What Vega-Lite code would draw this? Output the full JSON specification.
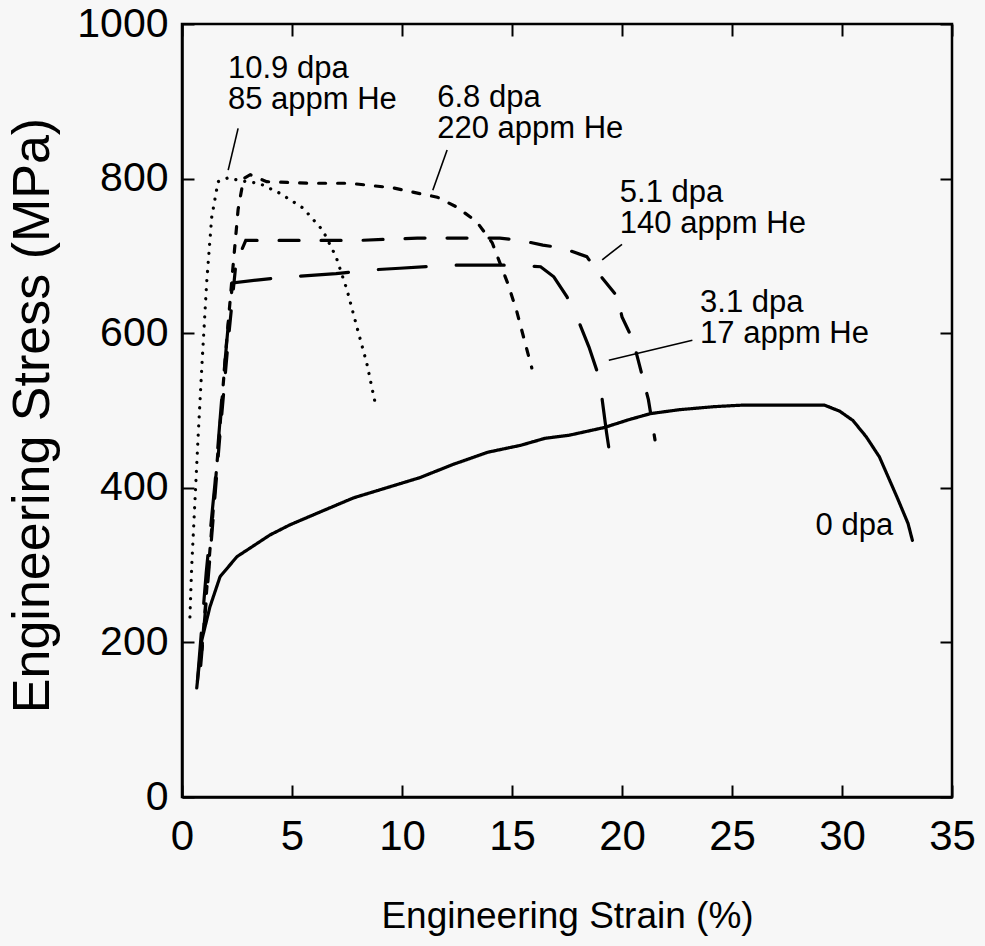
{
  "$schema": "https://vega.github.io/schema/vega-lite/v6.json",
  "width": 770,
  "height": 773,
  "autosize": "none",
  "padding": {"left": 182, "top": 24, "right": 33, "bottom": 149},
  "background": "#f7f7f7",
  "config": {
    "view": {"stroke": "black", "strokeWidth": 2.5},
    "axis": {"grid": false, "domainColor": "black", "domainWidth": 2.5, "tickColor": "black", "tickWidth": 2, "labelColor": "black", "titleColor": "black", "titleFontWeight": "normal"}
  },
  "datasets": {
    "curves": [
      {"series": "0 dpa", "strain": 0.67, "stress": 141},
      {"series": "0 dpa", "strain": 0.9, "stress": 203},
      {"series": "0 dpa", "strain": 1.27, "stress": 246},
      {"series": "0 dpa", "strain": 1.73, "stress": 285},
      {"series": "0 dpa", "strain": 2.5, "stress": 311},
      {"series": "0 dpa", "strain": 3.2, "stress": 324},
      {"series": "0 dpa", "strain": 4.0, "stress": 339},
      {"series": "0 dpa", "strain": 4.9, "stress": 352},
      {"series": "0 dpa", "strain": 6.3, "stress": 369},
      {"series": "0 dpa", "strain": 7.8, "stress": 387},
      {"series": "0 dpa", "strain": 9.3, "stress": 400},
      {"series": "0 dpa", "strain": 10.8, "stress": 413},
      {"series": "0 dpa", "strain": 12.3, "stress": 430},
      {"series": "0 dpa", "strain": 13.9, "stress": 446},
      {"series": "0 dpa", "strain": 15.4, "stress": 455},
      {"series": "0 dpa", "strain": 16.5, "stress": 464},
      {"series": "0 dpa", "strain": 17.6, "stress": 468},
      {"series": "0 dpa", "strain": 19.2, "stress": 478},
      {"series": "0 dpa", "strain": 20.3, "stress": 488},
      {"series": "0 dpa", "strain": 21.3, "stress": 496},
      {"series": "0 dpa", "strain": 22.6, "stress": 501},
      {"series": "0 dpa", "strain": 24.2, "stress": 505},
      {"series": "0 dpa", "strain": 25.5, "stress": 507},
      {"series": "0 dpa", "strain": 27.5, "stress": 507},
      {"series": "0 dpa", "strain": 29.2, "stress": 507},
      {"series": "0 dpa", "strain": 29.9, "stress": 499},
      {"series": "0 dpa", "strain": 30.5, "stress": 487},
      {"series": "0 dpa", "strain": 31.1, "stress": 466},
      {"series": "0 dpa", "strain": 31.7, "stress": 440},
      {"series": "0 dpa", "strain": 32.1, "stress": 414},
      {"series": "0 dpa", "strain": 32.5, "stress": 388},
      {"series": "0 dpa", "strain": 33.0, "stress": 354},
      {"series": "0 dpa", "strain": 33.2, "stress": 332},
      {"series": "10.9 dpa", "strain": 0.36, "stress": 233},
      {"series": "10.9 dpa", "strain": 0.44, "stress": 298},
      {"series": "10.9 dpa", "strain": 0.59, "stress": 384},
      {"series": "10.9 dpa", "strain": 0.73, "stress": 465},
      {"series": "10.9 dpa", "strain": 0.9, "stress": 556},
      {"series": "10.9 dpa", "strain": 1.12, "stress": 665},
      {"series": "10.9 dpa", "strain": 1.35, "stress": 750},
      {"series": "10.9 dpa", "strain": 1.64, "stress": 796},
      {"series": "10.9 dpa", "strain": 2.1, "stress": 801},
      {"series": "10.9 dpa", "strain": 2.7, "stress": 797},
      {"series": "10.9 dpa", "strain": 3.5, "stress": 794},
      {"series": "10.9 dpa", "strain": 4.45, "stress": 781},
      {"series": "10.9 dpa", "strain": 5.5, "stress": 762},
      {"series": "10.9 dpa", "strain": 6.4, "stress": 733},
      {"series": "10.9 dpa", "strain": 7.0, "stress": 699},
      {"series": "10.9 dpa", "strain": 7.5, "stress": 656},
      {"series": "10.9 dpa", "strain": 7.95, "stress": 608},
      {"series": "10.9 dpa", "strain": 8.4, "stress": 561},
      {"series": "10.9 dpa", "strain": 8.8, "stress": 507},
      {"series": "6.8 dpa", "strain": 0.9, "stress": 190},
      {"series": "6.8 dpa", "strain": 1.3, "stress": 330},
      {"series": "6.8 dpa", "strain": 1.7, "stress": 470},
      {"series": "6.8 dpa", "strain": 2.0, "stress": 580},
      {"series": "6.8 dpa", "strain": 2.3, "stress": 680},
      {"series": "6.8 dpa", "strain": 2.55, "stress": 760},
      {"series": "6.8 dpa", "strain": 2.8, "stress": 800},
      {"series": "6.8 dpa", "strain": 3.1, "stress": 805},
      {"series": "6.8 dpa", "strain": 3.85, "stress": 796},
      {"series": "6.8 dpa", "strain": 5.8, "stress": 794},
      {"series": "6.8 dpa", "strain": 7.6, "stress": 794},
      {"series": "6.8 dpa", "strain": 9.6, "stress": 788},
      {"series": "6.8 dpa", "strain": 10.4, "stress": 783},
      {"series": "6.8 dpa", "strain": 11.6, "stress": 776},
      {"series": "6.8 dpa", "strain": 12.5, "stress": 763},
      {"series": "6.8 dpa", "strain": 13.4, "stress": 744},
      {"series": "6.8 dpa", "strain": 14.1, "stress": 717},
      {"series": "6.8 dpa", "strain": 14.8, "stress": 665},
      {"series": "6.8 dpa", "strain": 15.2, "stress": 630},
      {"series": "6.8 dpa", "strain": 15.6, "stress": 587},
      {"series": "6.8 dpa", "strain": 15.9, "stress": 555},
      {"series": "5.1 dpa", "strain": 0.85, "stress": 170},
      {"series": "5.1 dpa", "strain": 1.3, "stress": 320},
      {"series": "5.1 dpa", "strain": 1.7, "stress": 460},
      {"series": "5.1 dpa", "strain": 2.1, "stress": 590},
      {"series": "5.1 dpa", "strain": 2.45, "stress": 690},
      {"series": "5.1 dpa", "strain": 2.9, "stress": 720},
      {"series": "5.1 dpa", "strain": 5.0, "stress": 720},
      {"series": "5.1 dpa", "strain": 8.0, "stress": 720},
      {"series": "5.1 dpa", "strain": 10.7, "stress": 723},
      {"series": "5.1 dpa", "strain": 12.95, "stress": 723},
      {"series": "5.1 dpa", "strain": 14.45, "stress": 723},
      {"series": "5.1 dpa", "strain": 15.4, "stress": 720},
      {"series": "5.1 dpa", "strain": 16.4, "stress": 714},
      {"series": "5.1 dpa", "strain": 17.3, "stress": 710},
      {"series": "5.1 dpa", "strain": 18.4, "stress": 699},
      {"series": "5.1 dpa", "strain": 19.0, "stress": 675},
      {"series": "5.1 dpa", "strain": 19.8, "stress": 647},
      {"series": "5.1 dpa", "strain": 20.0, "stress": 621},
      {"series": "5.1 dpa", "strain": 20.5, "stress": 591},
      {"series": "5.1 dpa", "strain": 20.7, "stress": 569},
      {"series": "5.1 dpa", "strain": 21.0, "stress": 536},
      {"series": "5.1 dpa", "strain": 21.2, "stress": 514},
      {"series": "5.1 dpa", "strain": 21.5, "stress": 462},
      {"series": "3.1 dpa", "strain": 0.7, "stress": 150},
      {"series": "3.1 dpa", "strain": 1.1, "stress": 290},
      {"series": "3.1 dpa", "strain": 1.5, "stress": 406},
      {"series": "3.1 dpa", "strain": 1.8, "stress": 513},
      {"series": "3.1 dpa", "strain": 2.1, "stress": 610},
      {"series": "3.1 dpa", "strain": 2.3, "stress": 665},
      {"series": "3.1 dpa", "strain": 3.5, "stress": 669},
      {"series": "3.1 dpa", "strain": 4.9, "stress": 673},
      {"series": "3.1 dpa", "strain": 7.0, "stress": 677},
      {"series": "3.1 dpa", "strain": 8.7, "stress": 682},
      {"series": "3.1 dpa", "strain": 9.9, "stress": 684},
      {"series": "3.1 dpa", "strain": 11.1, "stress": 686},
      {"series": "3.1 dpa", "strain": 12.5, "stress": 688},
      {"series": "3.1 dpa", "strain": 14.9, "stress": 688},
      {"series": "3.1 dpa", "strain": 16.3, "stress": 686},
      {"series": "3.1 dpa", "strain": 16.9, "stress": 673},
      {"series": "3.1 dpa", "strain": 17.5, "stress": 647},
      {"series": "3.1 dpa", "strain": 17.95, "stress": 621},
      {"series": "3.1 dpa", "strain": 18.5, "stress": 582},
      {"series": "3.1 dpa", "strain": 18.9, "stress": 548},
      {"series": "3.1 dpa", "strain": 19.1, "stress": 514},
      {"series": "3.1 dpa", "strain": 19.3, "stress": 471},
      {"series": "3.1 dpa", "strain": 19.5, "stress": 433}
    ],
    "labels": [
      {"text": "10.9 dpa\n85 appm He", "strain": 2.09, "stress": 930},
      {"text": "6.8 dpa\n220 appm He", "strain": 11.6, "stress": 893},
      {"text": "5.1 dpa\n140 appm He", "strain": 19.9, "stress": 770},
      {"text": "3.1 dpa\n17 appm He", "strain": 23.55, "stress": 627},
      {"text": "0 dpa", "strain": 28.8, "stress": 339}
    ],
    "leaders": [
      {"x1": 2.55, "y1": 865, "x2": 2.1, "y2": 811},
      {"x1": 12.05, "y1": 837, "x2": 11.4, "y2": 785},
      {"x1": 20.0, "y1": 715, "x2": 19.1, "y2": 695},
      {"x1": 23.2, "y1": 591, "x2": 19.4, "y2": 565}
    ]
  },
  "resolve": {"axis": {"x": "independent", "y": "independent"}},
  "layer": [
    {
      "data": {"name": "curves"},
      "mark": {"type": "line", "strokeWidth": 3.2, "strokeCap": "round", "color": "black"},
      "encoding": {
        "x": {"field": "strain", "type": "quantitative", "scale": {"domain": [0, 35], "nice": false, "zero": false},
          "axis": {"orient": "bottom", "values": [0, 5, 10, 15, 20, 25, 30, 35], "tickSize": -12, "labelPadding": 31, "format": "d",
            "labelFontSize": 42, "labelFont": "Liberation Sans", "labelFlush": false,
            "title": "Engineering Strain (%)", "titleFont": "Liberation Sans", "titleFontSize": 37,
            "titleBaseline": "alphabetic", "titleY": 130, "titleX": 385}},
        "y": {"field": "stress", "type": "quantitative", "scale": {"domain": [0, 1000], "nice": false},
          "axis": {"orient": "left", "values": [0, 200, 400, 600, 800, 1000], "tickSize": -12, "labelPadding": 26, "format": "d",
            "labelFontSize": 41, "labelFont": "Liberation Sans", "labelFlush": false,
            "title": "Engineering Stress (MPa)", "titleFont": "Liberation Sans", "titleFontSize": 52,
            "titleBaseline": "alphabetic", "titleX": -134, "titleY": 391, "titleAngle": -90}},
        "detail": {"field": "series"},
        "strokeDash": {"field": "series", "type": "nominal",
          "scale": {"domain": ["0 dpa", "10.9 dpa", "6.8 dpa", "5.1 dpa", "3.1 dpa"],
            "range": [[1, 0], [0.1, 9], [7, 12], [20, 22], [48, 30]]}, "legend": null},
        "order": {"value": null}
      }
    },
    {
      "data": {"name": "leaders"},
      "mark": {"type": "rule", "strokeWidth": 1.6, "color": "black"},
      "encoding": {
        "x": {"field": "x1", "type": "quantitative",
          "axis": {"orient": "top", "values": [0, 5, 10, 15, 20, 25, 30, 35], "labels": false, "title": null, "tickSize": -12, "domain": false}},
        "y": {"field": "y1", "type": "quantitative",
          "axis": {"orient": "right", "values": [0, 200, 400, 600, 800, 1000], "labels": false, "title": null, "tickSize": -12, "domain": false}},
        "x2": {"field": "x2"},
        "y2": {"field": "y2"}
      }
    },
    {
      "data": {"name": "labels"},
      "mark": {"type": "text", "align": "left", "baseline": "alphabetic", "font": "Liberation Sans", "fontSize": 31, "lineBreak": "\n", "lineHeight": 31, "color": "black"},
      "encoding": {
        "x": {"field": "strain", "type": "quantitative", "axis": null},
        "y": {"field": "stress", "type": "quantitative", "axis": null},
        "text": {"field": "text"}
      }
    }
  ]
}
